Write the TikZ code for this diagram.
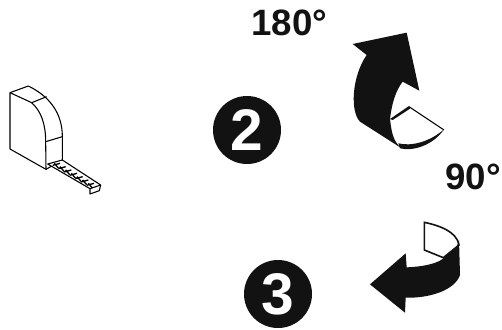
\documentclass[tikz,border=0pt]{standalone}
\usepackage{fontspec}
\setmainfont{Liberation Sans}
\usetikzlibrary{positioning}
\tikzset{
  angletext/.style = {font=\fontsize{27.5}{27.5}\selectfont\bfseries, text=black!93, inner sep=0pt},
  stepdot/.style   = {circle, fill=black!93, minimum size=51pt, inner sep=0pt, text=white,
                      font=\fontsize{44}{44}\selectfont\bfseries},
  outline/.style   = {draw=black, line width=0.8pt, line join=round},
  zoomed/.style    = {x=0.25pt, y=-0.25pt},
}
\begin{document}
\begin{tikzpicture}[x=0.75pt, y=-0.75pt]
  \useasboundingbox (0,0) rectangle (502,329);

  % labels
  \node[angletext] (half)    at (289.5,23) {180°};
  \node[angletext] (quarter) at (473,177)  {90°};
  \node[stepdot]   (two)     at (247,130)  {2};
  \node[stepdot]   (three)   at (278,294)  {3};

  % tape measure
  \begin{scope}[shift={(0,80)}, zoomed]
    \draw[outline, fill=white] (30,38) -- (85,18) .. controls (150,50) and (187,100) .. (187,170)
      -- (187,240) -- (138,268) -- (30,207) -- cycle;
    \draw[outline] (30,38) -- (95,68) .. controls (125,95) and (137,135) .. (137,185) -- (138,268);
    \draw[outline] (95,68) -- (140,50);
    \draw[outline] (137,185) -- (187,170);
    \draw[outline, fill=white] (143,252) -- (187,240) -- (302,315) -- (270,326) -- cycle;
    \foreach \k in {0,1,...,6}
      \draw[line width=1pt] ({158+\k*17},{256+\k*10}) -- ++(22,-6)
        ({163+\k*17},{250+\k*10}) -- ++(12,14);
    \draw[outline] (270,326) -- (270,342) -- (298,332) -- (302,315);
  \end{scope}

  % upper arrow
  \begin{scope}[shift={(340,20)}, zoomed]
    \fill[white] (150,297) -- (207,260) -- (312,330)
      .. controls (270,375) and (220,392) .. (180,383) -- cycle;
    \draw[line width=0.8pt] (207,260) -- (312,330);
    \fill[black!93] (150,297) -- (207,258) -- (210,266) -- (158,300) -- cycle;
    \fill[black!93] (312,328) .. controls (280,375) and (220,395) .. (180,385)
      -- (175,370) .. controls (215,380) and (270,365) .. (312,328) -- cycle;
    \fill[black!93] (38,72) -- (200,38) -- (238,212) -- (188,185)
      .. controls (165,215) and (155,255) .. (150,297)
      .. controls (155,340) and (160,365) .. (185,385)
      -- (60,305) .. controls (30,275) and (35,170) .. (80,105) -- cycle;
  \end{scope}

  % lower arrow
  \begin{scope}[shift={(360,215)}, zoomed]
    \draw[draw=black!93, line width=1.2pt, fill=white] (193,22) .. controls (240,32) and (290,50) .. (297,90)
      -- (250,128) -- (193,105) -- cycle;
    \fill[black!93] (30,208) -- (137,115) -- (140,157)
      .. controls (190,155) and (240,145) .. (255,125)
      .. controls (275,110) and (295,95) .. (297,75) -- (300,180)
      .. controls (285,225) and (210,250) .. (137,248) -- (135,293) -- cycle;
  \end{scope}
\end{tikzpicture}
\end{document}
